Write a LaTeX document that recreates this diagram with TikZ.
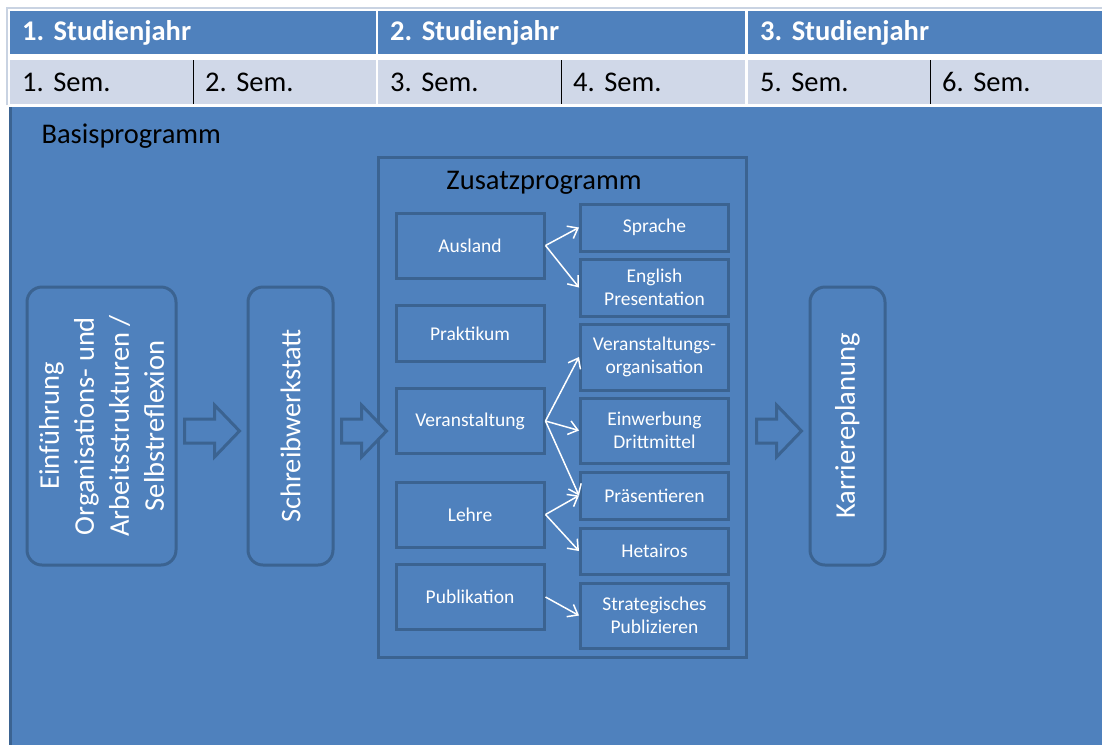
\documentclass[tikz,border=0pt]{standalone}
\usepackage{fontspec}
\setmainfont{Carlito}
\usetikzlibrary{calc, arrows.meta}
\definecolor{hdblue}{HTML}{4F81BD}
\definecolor{rowgray}{HTML}{D0D8E8}
\definecolor{edgeblue}{HTML}{3B6391}
\definecolor{rimgray}{HTML}{C9D3E2}
\frenchspacing
\newcommand{\bigfont}{\fontsize{28.5}{35}\selectfont}
\newcommand{\smallfont}{\fontsize{19.5}{23.5}\selectfont}
\newcommand{\blockarrow}[2]{%
  \draw[blockedge] let \p1=(#1), \p2=(#2) in
    (\x1,\y1+12pt) -- (\x2-25pt,\y1+12pt) -- (\x2-25pt,\y1+26pt) -- (\x2,\y1)
    -- (\x2-25pt,\y1-26pt) -- (\x2-25pt,\y1-12pt) -- (\x1,\y1-12pt) -- cycle;}

\begin{document}
\begin{tikzpicture}[x=1pt, y=-1pt,
  yearcell/.style={anchor=north west, fill=hdblue, text=white, font=\bigfont\bfseries,
    minimum height=43pt, inner xsep=12pt, inner ysep=0pt, text width=#1, align=left},
  semcell/.style={anchor=north west, fill=rowgray, text=black, font=\bigfont,
    minimum height=44pt, inner xsep=12pt, inner ysep=0pt, text width=#1, align=left},
  stage/.style={draw=edgeblue, line width=3pt, fill=hdblue, rounded corners=15pt, rotate=90,
    text=white, font=\bigfont, align=center, minimum width=278pt, minimum height=#1, inner sep=0pt},
  zusatzbox/.style={draw=edgeblue, line width=3pt, fill=hdblue,
    minimum width=368pt, minimum height=500pt, inner sep=0pt},
  modul/.style={draw=edgeblue, line width=3pt, fill=hdblue, text=white, font=\smallfont,
    align=center, minimum width=148pt, minimum height=#1, inner sep=0pt},
  thinarrow/.style={draw=white, line width=1.5pt, -{Straight Barb[length=9pt, width=14pt]}},
  blockedge/.style={draw=edgeblue, line width=3pt, fill=hdblue, line join=miter},
  semline/.style={line width=1.8pt, black}]

\useasboundingbox (0,0) rectangle (1102,745);
\fill[white] (0,0) rectangle (1102,745);
\draw[rimgray, line width=1.2pt] (7,105) -- (7,8) -- (1102,8);
\fill[hdblue] (10,107) rectangle (1102,745);
\draw[edgeblue, line width=2.5pt] (10.5,107) -- (10.5,745);

\node[yearcell=342pt] (jahr1) at (10,11) {1. Studienjahr};
\node[yearcell=343pt] (jahr2) at (378,11) {2. Studienjahr};
\node[yearcell=330pt] (jahr3) at (748,11) {3. Studienjahr};
\foreach \n/\x/\tw in {1/10/159, 2/193/159, 3/378/159, 4/561/160, 5/748/158, 6/930/148}
  \node[semcell=\tw pt] (sem\n) at (\x,60) {\n. Sem.};
\foreach \n in {1,3,5}
  \draw[semline] (sem\n.north east) -- (sem\n.south east);

\node[anchor=west, font=\bigfont] (basis) at (38,136) {Basisprogramm};

\node[stage=149pt] (ein) at (101.5,426) {Einführung\\Organisations- und\\Arbeitsstrukturen /\\Selbstreflexion};
\node[stage=85pt] (schreib) at (290.5,426) {Schreibwerkstatt};
\node[zusatzbox] (zusatz) at (562,407) {};
\node[font=\bigfont] (zusatztitel) at (544,183) {Zusatzprogramm};
\node[stage=75pt] (karriere) at (847.5,426) {Karriereplanung};

\node[modul=65pt] (ausland) at (470,245.5) {Ausland};
\node[modul=56pt] (praktikum) at (470,333.5) {Praktikum};
\node[modul=65pt] (veranst) at (470,421) {Veranstaltung};
\node[modul=65pt] (lehre) at (470,514.5) {Lehre};
\node[modul=65pt] (publik) at (470,597) {Publikation};

\node[modul=47pt] (sprache) at (654.5,227.5) {Sprache};
\node[modul=57pt] (english) at (654.5,287.5) {English\\Presentation};
\node[modul=66pt] (vorg) at (654.5,357) {Veranstaltungs-\\organisation};
\node[modul=65pt] (einwerb) at (654.5,430.5) {Einwerbung\\Drittmittel};
\node[modul=47pt] (praes) at (654.5,495.5) {Präsentieren};
\node[modul=46pt] (hetairos) at (654.5,551) {Hetairos};
\node[modul=65pt] (strat) at (654.5,615.5) {Strategisches\\Publizieren};

\draw[thinarrow] (ausland.east) -- (sprache.west);
\draw[thinarrow] (ausland.east) -- (english.west);
\draw[thinarrow] (veranst.east) -- (vorg.west);
\draw[thinarrow] (veranst.east) -- (einwerb.west);
\draw[thinarrow] (veranst.east) -- (praes.west);
\draw[thinarrow] (lehre.east) -- (praes.west);
\draw[thinarrow] (lehre.east) -- (hetairos.west);
\draw[thinarrow] (publik.east) -- (strat.west);

\coordinate (a1) at ($(ein.south)+(7,5)$);
\coordinate (t1) at ($(schreib.north)+(-7,5)$);
\coordinate (a2) at ($(schreib.south)+(7,5)$);
\coordinate (t2) at ($(zusatz.west)+(10,24)$);
\coordinate (a3) at ($(zusatz.east)+(9,24)$);
\coordinate (t3) at ($(karriere.north)+(-7,5)$);
\blockarrow{a1}{t1}
\blockarrow{a2}{t2}
\blockarrow{a3}{t3}
\end{tikzpicture}
\end{document}
